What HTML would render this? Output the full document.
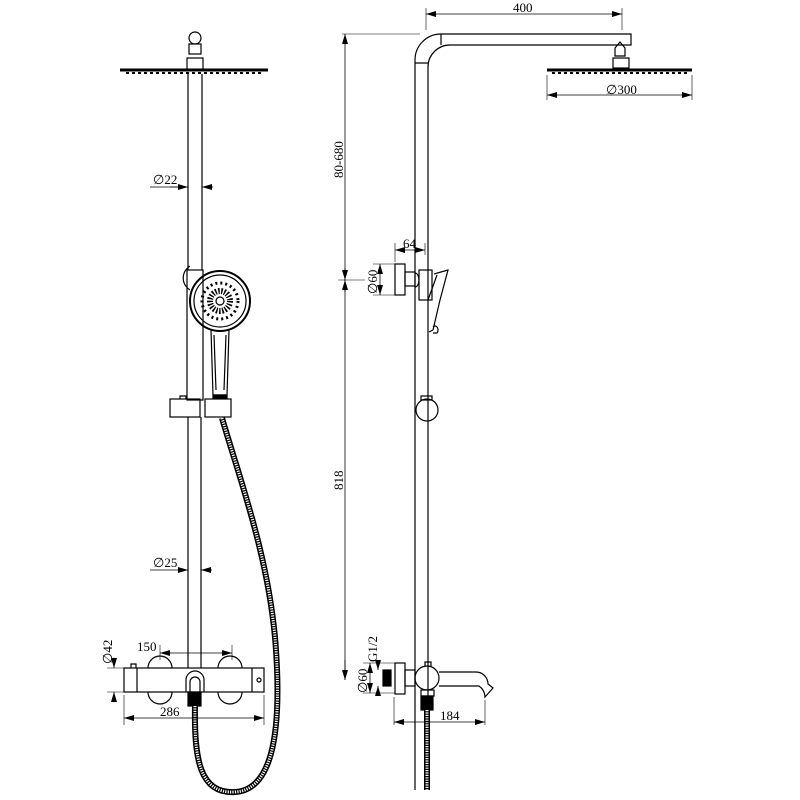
<!DOCTYPE html>
<html><head><style>
html,body{margin:0;padding:0;background:#fff}
svg{display:block}
text{font-family:"Liberation Serif",serif;font-size:13px;fill:#000}
</style></head><body>
<svg width="800" height="800" viewBox="0 0 800 800" xmlns="http://www.w3.org/2000/svg">
<defs>
<marker id="a" markerWidth="10" markerHeight="6" refX="10" refY="3" orient="auto-start-reverse" markerUnits="userSpaceOnUse"><path d="M0,0 L10,3 L0,6 Z" fill="#000"/></marker>
</defs>
<g fill="none" stroke="#000" stroke-width="1.2">
<circle cx="195" cy="38" r="6"/>
<rect x="189" y="44" width="12" height="10"/>
<rect x="187" y="58" width="16" height="12"/>
<path d="M120,70 L268,70" stroke-width="3"/>
<path d="M126,73 L262,73" stroke-width="2" stroke-dasharray="3,3"/>
<path d="M188,74 V270 M202,74 V270"/>
<path d="M190,266 A14,14 0 0 0 190,290"/>
<rect x="187" y="270" width="16" height="130"/>
<circle cx="220" cy="301" r="30" stroke-width="2"/>
<circle cx="220" cy="301" r="26"/>
<circle cx="220" cy="301" r="4" />
<circle cx="220" cy="301" r="10" stroke-width="6" stroke-dasharray="1.5,1.5"/>
<circle cx="220" cy="301" r="18" stroke-width="3" stroke-dasharray="2,3"/>
<path d="M211,330 L213,395 L227,395 L229,330"/>
<path d="M214,335 L216,390 M226,335 L224,390"/>
<rect x="213" y="395" width="14" height="3" fill="#000"/>
<rect x="170" y="399" width="30" height="18"/>
<rect x="205" y="399" width="26" height="18"/>
<path d="M180,399 v-3 h6 v3"/>
<path d="M188,417 V668 M201,417 V668"/>
<path d="M148,668 A12,12 0 0 1 172,668 M218,668 A12,12 0 0 1 242,668"/>
<path d="M148,692 A12,12 0 0 0 172,692 M218,692 A12,12 0 0 0 242,692"/>
<rect x="124" y="668" width="140" height="24"/>
<path d="M137,668 V692 M252,668 V692"/>
<path d="M131,668 v-4 h5 v4"/>
<circle cx="259" cy="680" r="2"/>
<path d="M186,692 V680 A9,9 0 0 1 204,680 V692 M190,692 V682 A5,5 0 0 1 200,682 V692"/>
<rect x="188" y="692" width="13" height="14" fill="#000"/>
<path d="M222,418 C240,480 270,560 276,650 C282,740 270,790 235,792 C200,794 194,760 195,706" stroke-width="6"/>
<path d="M222,418 C240,480 270,560 276,650 C282,740 270,790 235,792 C200,794 194,760 195,706" stroke="#fff" stroke-width="3" stroke-dasharray="1.2,1.2"/>
<path d="M150,187 H185" stroke-width="0.8"/>
<path d="M170,187 H188" stroke-width="0.8" marker-end="url(#a)"/>
<path d="M213,187 H202" stroke-width="0.8" marker-end="url(#a)"/>
<path d="M150,570 H188" stroke-width="0.8" marker-end="url(#a)"/>
<path d="M212,570 H201" stroke-width="0.8" marker-end="url(#a)"/>
<path d="M160,645 V660 M232,645 V660" stroke-width="0.6"/>
<path d="M160,653 H232" stroke-width="0.8" marker-start="url(#a)" marker-end="url(#a)"/>
<path d="M124,695 V725 M264,695 V725" stroke-width="0.6"/>
<path d="M124,718 H264" stroke-width="0.8" marker-start="url(#a)" marker-end="url(#a)"/>
<path d="M107,668 H124 M107,692 H124" stroke-width="0.6"/>
<path d="M114,660 V668" stroke-width="0.8" marker-end="url(#a)"/>
<path d="M114,700 V692" stroke-width="0.8" marker-end="url(#a)"/>

<path d="M415,790 V60 A26,26 0 0 1 441,34 H631 V45 H450 A22,22 0 0 0 428,67 V790"/>
<path d="M441,34 V45 M415,63 H428"/>
<path d="M615,48 l5,-6 l5,6 v8 h-10 z"/>
<rect x="613" y="58" width="16" height="10"/>
<path d="M547,70 H692" stroke-width="3"/>
<path d="M552,73 H688" stroke-width="2" stroke-dasharray="3,3"/>
<rect x="395" y="264" width="10" height="31"/>
<rect x="405" y="272" width="10" height="14"/>
<path d="M415,273 a4,7 0 0 1 0,14"/>
<rect x="419" y="270" width="13" height="30"/>
<path d="M434,274 L448,270 L440,300 L433,330" />
<path d="M428,300 L437,275 M433,330 L429,332"/>
<path d="M433,327 a3,4 0 0 1 4,6 h-4"/>
<rect x="421" y="396" width="11" height="4"/>
<circle cx="427" cy="410" r="11"/>
<rect x="395" y="663" width="10" height="31"/>
<rect x="405" y="670" width="10" height="16"/>
<rect x="383" y="670" width="8" height="16" fill="#000"/>
<path d="M425,666 v-4 h6 v4"/>
<circle cx="427" cy="678" r="12"/>
<path d="M439,672 H476 A12,12 0 0 1 488,684 L493,688 L485,697 A14,14 0 0 0 479,686 H439"/>
<rect x="421" y="690" width="13" height="6"/>
<rect x="421" y="696" width="12" height="14" fill="#000"/>
<path d="M427,710 V790" stroke-width="6"/>
<path d="M427,710 V790" stroke="#fff" stroke-width="3" stroke-dasharray="1.2,1.2"/>
<path d="M426,8 V30 M622,8 V30" stroke-width="0.6"/>
<path d="M426,14 H622" stroke-width="0.8" marker-start="url(#a)" marker-end="url(#a)"/>
<path d="M547,75 V100 M692,75 V100" stroke-width="0.6"/>
<path d="M547,95 H692" stroke-width="0.8" marker-start="url(#a)" marker-end="url(#a)"/>
<path d="M342,34 H420" stroke-width="0.6"/>
<path d="M345,280 V34" stroke-width="0.8" marker-end="url(#a)"/>
<path d="M345,280 V680" stroke-width="0.8"/>
<path d="M338,280 H365" stroke-width="0.6"/>
<path d="M345,268 V280" stroke-width="0.8" marker-end="url(#a)"/>
<path d="M345,292 V280" stroke-width="0.8" marker-end="url(#a)"/>
<path d="M345,660 V680" stroke-width="0.8" marker-end="url(#a)"/>
<path d="M395,243 V262 M425,243 V255" stroke-width="0.6"/>
<path d="M395,250 H425" stroke-width="0.8" marker-start="url(#a)" marker-end="url(#a)"/>
<path d="M373,264 H395 M373,295 H395" stroke-width="0.6"/>
<path d="M380,264 V295" stroke-width="0.8" marker-start="url(#a)" marker-end="url(#a)"/>
<path d="M363,663 H395 M363,693 H395" stroke-width="0.6"/>
<path d="M370,663 V693" stroke-width="0.8" marker-start="url(#a)" marker-end="url(#a)"/>
<path d="M378,660 V670" stroke-width="0.8" marker-end="url(#a)"/>
<path d="M378,696 V686" stroke-width="0.8" marker-end="url(#a)"/>
<path d="M394,697 V725 M485,700 V725" stroke-width="0.6"/>
<path d="M394,722 H485" stroke-width="0.8" marker-start="url(#a)" marker-end="url(#a)"/>
</g>
<text x="153" y="184">∅22</text>
<text x="153" y="567">∅25</text>
<text x="137" y="651">150</text>
<text x="160" y="716">286</text>
<text transform="translate(112,664) rotate(-90)">∅42</text>
<text x="513" y="12">400</text>
<text x="606" y="94">∅300</text>
<text transform="translate(343,178) rotate(-90)">80-680</text>
<text transform="translate(343,490) rotate(-90)">818</text>
<text x="403" y="248">64</text>
<text transform="translate(377,294) rotate(-90)">∅60</text>
<text transform="translate(367,693) rotate(-90)">∅60</text>
<text transform="translate(377,662) rotate(-90)">G1/2</text>
<text x="440" y="720">184</text>
</svg>
</body></html>
